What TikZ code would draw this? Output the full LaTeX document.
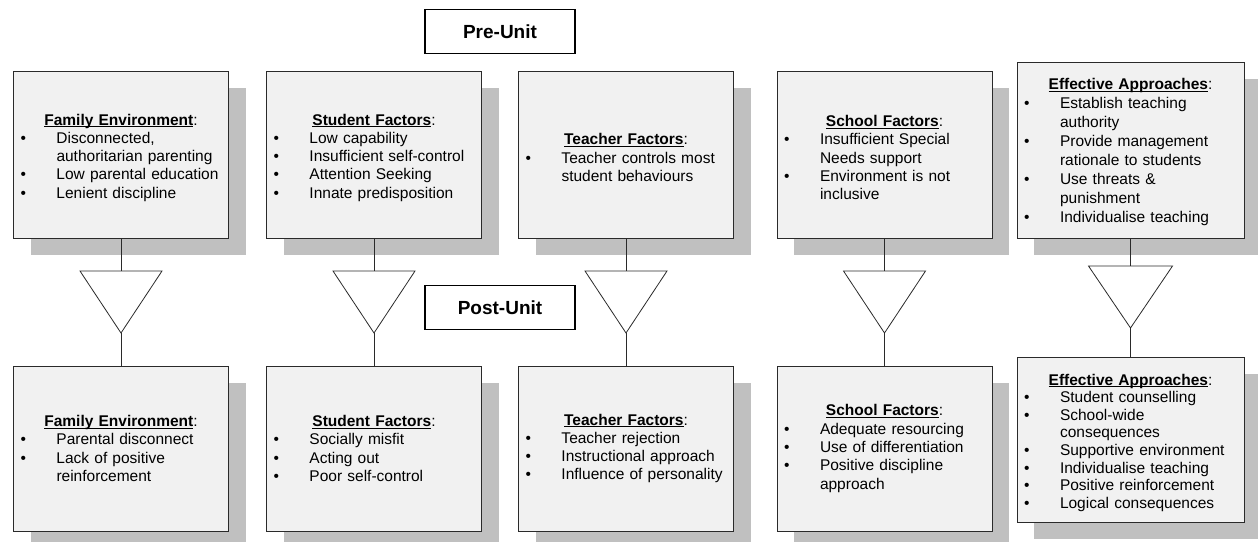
\documentclass[tikz,border=0pt]{standalone}
\usepackage{fontspec}
\setmainfont{Liberation Sans}
\usetikzlibrary{shadows}
\definecolor{boxfill}{HTML}{F1F1F1}
\definecolor{shgray}{HTML}{C0C0C0}
\definecolor{linecol}{HTML}{2A2A2A}
\newcommand\myul[1]{\setbox0\hbox{#1}\rlap{\rule[-1.9pt]{\wd0}{0.9pt}}\box0}
\newcommand\boxtitle[2][0pt]{{\centering\rule{0pt}{#1}\myul{\textbf{#2}}:\par}}
\newcommand\bitem[1]{\par\noindent\hangindent=36pt\hangafter=1\makebox[36pt][l]{\textbullet}#1\par}
\tikzset{
  factorbox/.style={draw=linecol, line width=0.8pt, fill=boxfill, rectangle,
    minimum width=215pt, minimum height=167pt, text width=201pt, inner xsep=7pt, inner ysep=0pt,
    font=\fontsize{15.5}{18.3}\selectfont,
    drop shadow={shadow xshift=17pt, shadow yshift=-17pt, fill=shgray, opacity=1}},
  effbox/.style={factorbox, minimum width=227pt, text width=213pt},
  phasebox/.style={draw=black, line width=1.4pt, fill=white, minimum width=150pt, minimum height=44pt,
    font=\fontsize{19}{22}\selectfont\bfseries},
  tri/.style={draw=linecol, line width=0.8pt},
  conn/.style={draw=linecol, line width=0.8pt}
}
\begin{document}
\begin{tikzpicture}[x=1pt, y=-1pt]
\useasboundingbox (0,0) rectangle (1258,541);

% phase labels
\node[phasebox] (pre) at (500,31.5) {Pre-Unit};
\node[phasebox] (post) at (500,307.5) {Post-Unit};

% top row
\node[factorbox] (top1) at (121,154.5) {\boxtitle[17.5pt]{Family Environment}\bitem{Disconnected,\newline authoritarian parenting}\bitem{Low parental education}\bitem{Lenient discipline}};
\node[factorbox] (top2) at (374,154.5) {\boxtitle[17.5pt]{Student Factors}\bitem{Low capability}\bitem{Insufficient self-control}\bitem{Attention Seeking}\bitem{Innate predisposition}};
\node[factorbox] (top3) at (626,154.5) {\boxtitle[17.5pt]{Teacher Factors}\bitem{Teacher controls most\newline student behaviours}};
\node[factorbox] (top4) at (884.5,154.5) {\boxtitle[17.5pt]{School Factors}\bitem{Insufficient Special\newline Needs support}\bitem{Environment is not\newline inclusive}};
\node[effbox, minimum height=176pt, font=\fontsize{15.5}{19}\selectfont] (top5) at (1130.5,150) {\boxtitle[15.5pt]{Effective Approaches}\bitem{Establish teaching\newline authority}\bitem{Provide management\newline rationale to students}\bitem{Use threats \&\newline punishment}\bitem{Individualise teaching}};

% bottom row
\node[factorbox, minimum height=165pt] (bot1) at (121,448.5) {\boxtitle{Family Environment}\bitem{Parental disconnect}\bitem{Lack of positive\newline reinforcement}};
\node[factorbox, minimum height=165pt] (bot2) at (374,448.5) {\boxtitle{Student Factors}\bitem{Socially misfit}\bitem{Acting out}\bitem{Poor self-control}};
\node[factorbox, minimum height=165pt] (bot3) at (626,448.5) {\boxtitle{Teacher Factors}\bitem{Teacher rejection}\bitem{Instructional approach}\bitem{Influence of personality}};
\node[factorbox, minimum height=165pt] (bot4) at (884.5,448.5) {\boxtitle{School Factors}\bitem{Adequate resourcing}\bitem{Use of differentiation}\bitem{Positive discipline\newline approach}};
\node[effbox, minimum height=165pt, font=\fontsize{15.5}{17.6}\selectfont] (bot5) at (1130.5,439.5) {\boxtitle[17.5pt]{Effective Approaches}\bitem{Student counselling}\bitem{School-wide\newline consequences}\bitem{Supportive environment}\bitem{Individualise teaching}\bitem{Positive reinforcement}\bitem{Logical consequences}};

% triangles
\coordinate (t1) at (121,271);   \coordinate (a1) at (121,333);
\coordinate (t2) at (374,271);   \coordinate (a2) at (374,333);
\coordinate (t3) at (626,271);   \coordinate (a3) at (626,333);
\coordinate (t4) at (884.5,271); \coordinate (a4) at (884.5,333);
\coordinate (t5) at (1130.5,266); \coordinate (a5) at (1130.5,328);
\foreach \i/\w in {1/41,2/41,3/41,4/41,5/42}{
  \draw[tri] (t\i) ++(-\w,0) -- ++(2*\w,0) -- (a\i) -- cycle;
  \draw[conn] (top\i.south) -- (t\i);
  \draw[conn] (a\i) -- (bot\i.north);
}
\end{tikzpicture}
\end{document}
